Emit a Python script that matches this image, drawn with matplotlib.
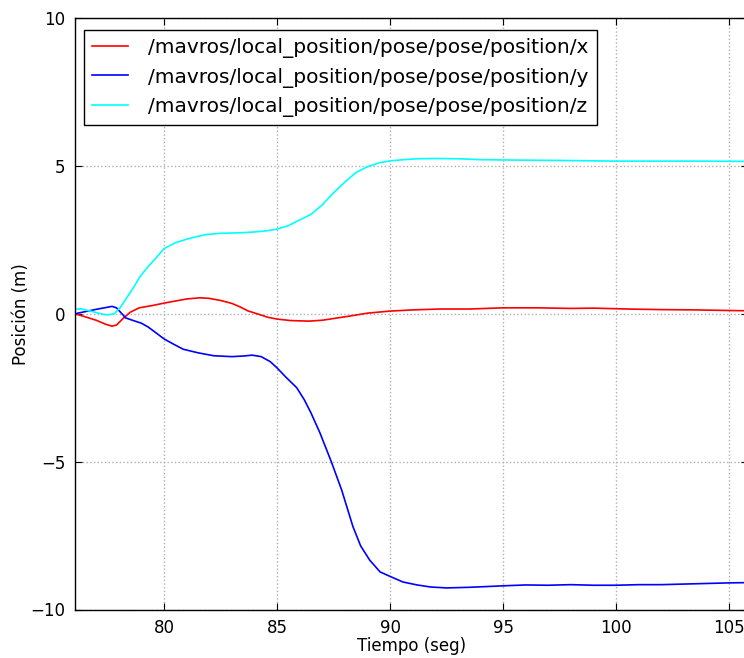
import matplotlib
matplotlib.use("Agg")
import matplotlib.pyplot as plt

# Position readings (time in s, position in m)
t_x = [76.06, 76.5, 77.0, 77.4, 77.7, 77.9, 78.2, 78.5, 78.9, 79.5, 80.0, 80.5,
       81.0, 81.6, 82.0, 82.5, 83.0, 83.4, 83.7, 84.2, 84.6, 85.0, 85.6, 86.4,
       87.0, 87.6, 88.2, 89.0, 90.0, 91.0, 92.2, 93.5, 95.0, 96.5, 98.0, 99.0,
       100.5, 102.0, 103.5, 105.0, 105.9]
pos_x = [0.0, -0.1, -0.22, -0.35, -0.42, -0.38, -0.15, 0.05, 0.2, 0.28, 0.36, 0.43,
         0.5, 0.54, 0.52, 0.45, 0.35, 0.22, 0.1, -0.02, -0.12, -0.18, -0.23, -0.25,
         -0.22, -0.15, -0.08, 0.02, 0.09, 0.13, 0.16, 0.16, 0.2, 0.2, 0.18, 0.19,
         0.16, 0.14, 0.13, 0.11, 0.1]

t_y = [76.06, 76.5, 77.0, 77.5, 77.7, 77.9, 78.3, 78.6, 79.0, 79.3, 79.6, 80.0,
       80.4, 80.85, 81.5, 82.2, 83.0, 83.5, 83.9, 84.3, 84.7, 85.0, 85.4, 85.87,
       86.2, 86.5, 86.9, 87.4, 87.86, 88.36, 88.7, 89.1, 89.56, 90.0, 90.57, 91.2,
       91.8, 92.5, 93.5, 95.0, 96.0, 97.0, 98.0, 99.0, 100.0, 101.0, 102.0, 103.0,
       104.0, 105.0, 105.9]
pos_y = [0.0, 0.07, 0.15, 0.22, 0.25, 0.2, -0.14, -0.22, -0.32, -0.45, -0.62, -0.85,
         -1.02, -1.2, -1.32, -1.42, -1.45, -1.43, -1.4, -1.45, -1.62, -1.83, -2.15, -2.5,
         -2.9, -3.35, -4.03, -5.0, -5.96, -7.2, -7.85, -8.33, -8.73, -8.88, -9.07, -9.17,
         -9.24, -9.27, -9.25, -9.2, -9.17, -9.18, -9.16, -9.18, -9.18, -9.16, -9.16, -9.14,
         -9.12, -9.1, -9.09]

t_z = [76.06, 76.3, 76.8, 77.2, 77.5, 77.8, 78.05, 78.4, 78.7, 78.94, 79.3, 79.6,
       80.0, 80.5, 81.0, 81.5, 81.9, 82.5, 83.4, 83.9, 84.5, 85.0, 85.5, 86.0,
       86.5, 87.0, 87.5, 88.0, 88.5, 88.97, 89.5, 90.0, 90.6, 91.2, 92.0, 93.0,
       94.0, 95.0, 96.5, 98.0, 100.0, 102.0, 104.0, 105.9]
pos_z = [0.15, 0.17, 0.08, 0.0, -0.04, 0.0, 0.2, 0.6, 0.95, 1.26, 1.6, 1.85,
         2.2, 2.4, 2.52, 2.62, 2.68, 2.72, 2.74, 2.76, 2.8, 2.86, 2.98, 3.17,
         3.36, 3.68, 4.09, 4.45, 4.78, 4.96, 5.1, 5.17, 5.21, 5.24, 5.25, 5.24,
         5.21, 5.2, 5.19, 5.18, 5.16, 5.16, 5.16, 5.15]

labels = ["/mavros/local_position/pose/pose/position/x",
          "/mavros/local_position/pose/pose/position/y",
          "/mavros/local_position/pose/pose/position/z"]
colors = ["red", "blue", "cyan"]

fig = plt.figure(figsize=(7.44, 6.58), dpi=100)
ax = fig.add_axes([75 / 744, 48.5 / 658, 673 / 744, 591.5 / 658])

for t, p, lab, c in zip([t_x, t_y, t_z], [pos_x, pos_y, pos_z], labels, colors):
    ax.plot(t, p, color=c, lw=1.2, label=lab)

ax.set_xlim(76.06, 105.84)
ax.set_ylim(-10, 10)
ax.set_xticks([80, 85, 90, 95, 100, 105])
ax.set_yticks([-10, -5, 0, 5, 10])
ax.grid(True, color="#b0b0b0", linestyle=":", linewidth=1.0)
ax.tick_params(direction="in", top=True, right=True, labelsize=12, length=5, pad=7)
for s in ax.spines.values():
    s.set_linewidth(1.0)

ax.set_xlabel("Tiempo (seg)", fontsize=12, labelpad=0)
ax.set_ylabel("Posición (m)", fontsize=12, labelpad=0.5)

leg = ax.legend(loc="upper left", bbox_to_anchor=(9 / 673, 1 - 12 / 591.5),
                borderaxespad=0, fontsize=14.5, fancybox=False, framealpha=1,
                edgecolor="black", handlelength=1.8, handletextpad=1.0,
                labelspacing=0.47, borderpad=0.4)
leg.get_frame().set_linewidth(1.0)

fig.savefig("out.png", dpi=100, facecolor="white")
